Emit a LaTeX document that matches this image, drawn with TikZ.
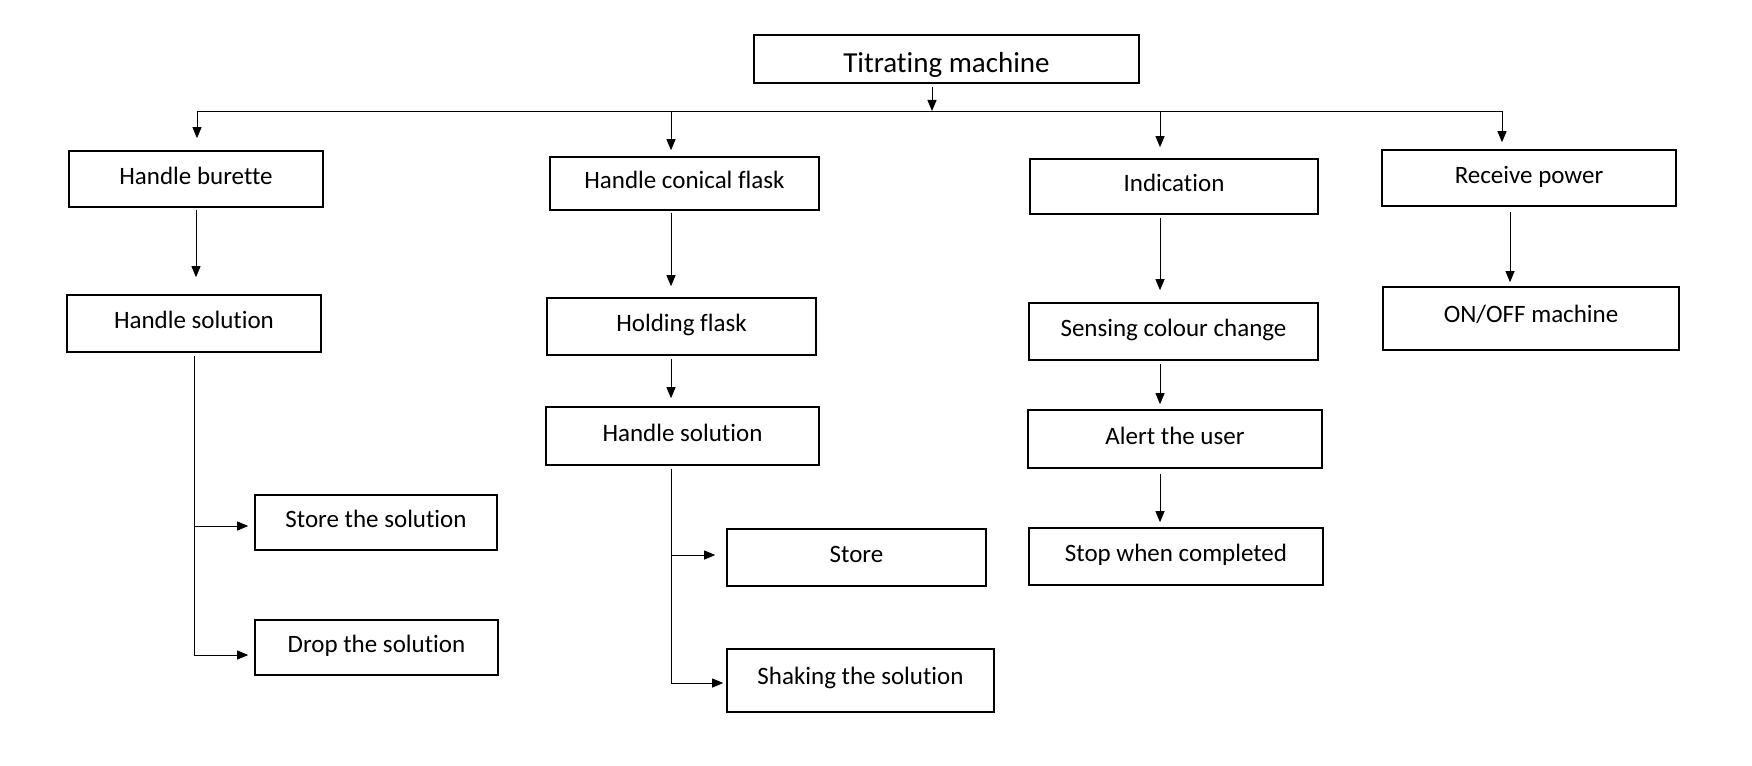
\documentclass[tikz,border=0pt]{standalone}
\usepackage{fontspec}
\setmainfont{Carlito}[Ligatures=NoCommon, Contextuals=NoAlternate, RawFeature={-liga;-clig;-calt}]
\usetikzlibrary{arrows.meta, positioning}

\begin{document}
\begin{tikzpicture}[x=1pt, y=-1pt, >={Triangle[length=11pt, width=9pt]}, line width=0.9pt]
      \tikzstyle{block}=[draw=black, line width=1.6pt, inner sep=0pt, text height=17pt, text depth=7pt, font=\fontsize{25}{30}\selectfont]
      \useasboundingbox (0,0) rectangle (1752,765);
      % boxes
      \node[block, minimum width=385pt, minimum height=48pt, text height=27pt, text depth=0pt, font=\fontsize{29}{34}\selectfont] (title) at (946.5,59) {Titrating machine};
      \node[block, minimum width=254pt, minimum height=56pt] (burette) at (196,179) {Handle burette};
      \node[block, minimum width=269pt, minimum height=53pt] (conical) at (684.5,183.5) {Handle conical flask};
      \node[block, minimum width=288pt, minimum height=55pt] (indication) at (1174,186.5) {Indication};
      \node[block, minimum width=294pt, minimum height=56pt] (power) at (1529,178) {Receive power};
      \node[block, minimum width=254pt, minimum height=57pt] (solution1) at (194,323.5) {Handle solution};
      \node[block, minimum width=269pt, minimum height=57pt] (holding) at (681.5,326.5) {Holding flask};
      \node[block, minimum width=289pt, minimum height=57pt] (sensing) at (1173.5,331.5) {Sensing colour change};
      \node[block, minimum width=296pt, minimum height=63pt, text depth=10pt] (onoff) at (1531,318.5) {ON/OFF machine};
      \node[block, minimum width=273pt, minimum height=58pt] (solution2) at (682.5,436) {Handle solution};
      \node[block, minimum width=294pt, minimum height=58pt] (alert) at (1175,439) {Alert the user};
      \node[block, minimum width=242pt, minimum height=55pt] (storesol) at (376,522.5) {Store the solution};
      \node[block, minimum width=259pt, minimum height=57pt] (store) at (856.5,557.5) {Store};
      \node[block, minimum width=294pt, minimum height=57pt] (stopw) at (1176,556.5) {Stop when completed};
      \node[block, minimum width=243pt, minimum height=55pt] (drop) at (376.5,647.5) {Drop the solution};
      \node[block, minimum width=267pt, minimum height=63pt, text depth=10pt] (shaking) at (860.5,680.5) {Shaking the solution};
      % bus line
      \coordinate (bus) at (932,111);
      \coordinate (b1) at (197,111);
      \coordinate (b2) at (671,111);
      \coordinate (b3) at (1160,111);
      \coordinate (b4) at (1502,111);
      \draw (b1) -- (b4);
      \draw[->, shorten <=3pt] (title.south -| bus) -- (bus);
      \draw[->, shorten >=12pt] (b1) -- (b1 |- burette.north);
      \draw[->, shorten >=6pt] (b2) -- (b2 |- conical.north);
      \draw[->, shorten >=11pt] (b3) -- (b3 |- indication.north);
      \draw[->, shorten >=7pt] (b4) -- (b4 |- power.north);
      % columns
      \draw[->, shorten <=2pt, shorten >=17pt] (burette.south) -- (burette.south |- solution1.north);
      \draw[->, shorten <=2pt, shorten >=11pt] (b2 |- conical.south) -- (b2 |- holding.north);
      \draw[->, shorten <=3pt, shorten >=8pt] (b2 |- holding.south) -- (b2 |- solution2.north);
      \draw[->, shorten <=3pt, shorten >=12pt] (b3 |- indication.south) -- (b3 |- sensing.north);
      \draw[->, shorten <=3pt, shorten >=5pt] (b3 |- sensing.south) -- (b3 |- alert.north);
      \draw[->, shorten <=5pt, shorten >=5pt] (b3 |- alert.south) -- (b3 |- stopw.north);
      \draw[->, shorten <=5pt, shorten >=4pt] ([xshift=-19pt]power.south) -- ([xshift=-19pt]power.south |- onoff.north);
      % side branches
      \draw[->, shorten >=6pt] ([yshift=-3pt]solution1.south) |- ([yshift=-7.5pt]drop.west);
      \draw[->, shorten >=6pt] ([yshift=-3.5pt]storesol.west -| solution1.south) -- ([yshift=-3.5pt]storesol.west);
      \draw[->, shorten >=3pt] ([yshift=-3pt]solution2.south -| b2) |- ([yshift=-2.5pt]shaking.west);
      \draw[->, shorten >=11pt] ([yshift=2.5pt]store.west -| b2) -- ([yshift=2.5pt]store.west);
\end{tikzpicture}
\end{document}
